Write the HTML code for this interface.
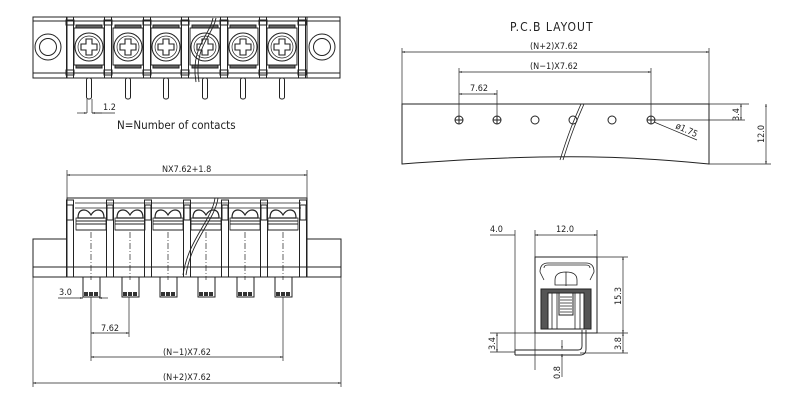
<!DOCTYPE html>
<html><head><meta charset="utf-8"><style>
html,body{margin:0;padding:0;background:#fff}
svg{display:block}
text{font-family:"DejaVu Sans Condensed","Liberation Sans",sans-serif;fill:#222}
</style></head><body>
<svg width="800" height="410" viewBox="0 0 800 410" xmlns="http://www.w3.org/2000/svg" fill="none" stroke="#222" stroke-width="1">
<defs>
<marker id="a" viewBox="0 0 10 10" refX="10" refY="5" markerWidth="6" markerHeight="4" orient="auto-start-reverse"><path d="M0,2 L10,5 L0,8z" fill="#222" stroke="none"/></marker>
<g id="term">
 <rect x="-15" y="28" width="30" height="37"/>
 <rect x="-13" y="25" width="26" height="3" fill="#666"/>
 <rect x="-13" y="65" width="26" height="3" fill="#666"/>
 <circle cx="0" cy="47" r="14"/><circle cx="0" cy="47" r="11" stroke-width="0.7"/>
 <path d="M-3,39 h6 v5 h5 v6 h-5 v5 h-6 v-5 h-5 v-6 h5z" stroke-width="1.1"/>
 <rect x="-2.5" y="78" width="5" height="21" rx="2"/>
</g>
<g id="sep"><rect x="-3.5" y="17" width="7" height="61"/><rect x="-4" y="20" width="8" height="5"/><rect x="-4" y="70" width="8" height="5"/></g>
<g id="fterm">
 <path d="M-13,218 q0,-8 6,-8 q4,0 7,5 q3,-5 7,-5 q6,0 6,8z" stroke-width="1.2"/>
 <path d="M-15,221 h30 M-15,224 h30 M-15,230 h30"/>
 <rect x="-15" y="218" width="30" height="12" stroke-width="0.8"/>
 <path d="M0,232 v48" stroke-dasharray="6,2,1,2" stroke-width="0.7"/>
 <rect x="-8" y="277" width="17" height="20"/>
 <rect x="-7" y="292" width="4" height="4" fill="#333" stroke="none"/>
 <rect x="-2" y="292" width="4" height="4" fill="#333" stroke="none"/>
 <rect x="3" y="292" width="4" height="4" fill="#333" stroke="none"/>
</g>
<g id="fsep"><rect x="-3.5" y="200" width="7" height="77"/><rect x="-3" y="205" width="6" height="15"/></g>
<g id="hole"><circle r="4"/><path d="M-4,0 h8 M0,-4 v8"/></g>
</defs>

<!-- TOP VIEW -->
<rect x="33" y="17" width="307" height="61"/>
<path d="M67,17 v61 M307,17 v61 M33,21 h307 M33,73 h307"/>
<circle cx="48" cy="47" r="13"/><circle cx="48" cy="47" r="8.5"/>
<circle cx="322" cy="47" r="13"/><circle cx="322" cy="47" r="8.5"/>
<use href="#term" x="89"/><use href="#term" x="128"/><use href="#term" x="166"/><use href="#term" x="205"/><use href="#term" x="243"/><use href="#term" x="282"/>
<use href="#sep" x="70"/><use href="#sep" x="108"/><use href="#sep" x="147"/><use href="#sep" x="185"/><use href="#sep" x="224"/><use href="#sep" x="263"/><use href="#sep" x="302"/>
<path d="M213,18 C210,35 190,48 196,82 M216,18 C213,35 193,48 199,82" stroke-width="0.9"/>
<path d="M87,99 v14 M92,99 v14" stroke-width="0.7"/>
<path d="M77,113 h10" marker-end="url(#a)" stroke-width="0.7"/><path d="M102,113 h-10" marker-end="url(#a)" stroke-width="0.7"/>
<path d="M92,113 h23" stroke-width="0.7"/>
<text x="103" y="110" font-size="9" stroke="none">1.2</text>
<text x="117" y="129" font-size="11.5" stroke="none">N=Number of contacts</text>

<!-- FRONT VIEW -->
<path d="M67,175 H307" marker-start="url(#a)" marker-end="url(#a)" stroke-width="0.7"/>
<path d="M67,170 v28 M307,170 v28" stroke-width="0.7"/>
<text x="162" y="172" font-size="9" stroke="none">NX7.62+1.8</text>
<rect x="67" y="198" width="240" height="79"/>
<path d="M75,203 h226 M75,208 h226" stroke-width="0.7"/>
<rect x="33" y="239" width="34" height="38"/><rect x="307" y="239" width="34" height="38"/>
<path d="M33,267 h308"/>
<use href="#fterm" x="91"/><use href="#fterm" x="130"/><use href="#fterm" x="168"/><use href="#fterm" x="206"/><use href="#fterm" x="245"/><use href="#fterm" x="283"/>
<use href="#fsep" x="70"/><use href="#fsep" x="110"/><use href="#fsep" x="148"/><use href="#fsep" x="187"/><use href="#fsep" x="225"/><use href="#fsep" x="264"/><use href="#fsep" x="303"/>
<path d="M215,198 C212,220 188,240 183,275 M218,198 C215,220 191,240 186,275" stroke-width="0.9"/>
<g stroke-width="0.7">
<path d="M58,298 h25" marker-end="url(#a)"/><path d="M108,298 h-9" marker-end="url(#a)"/>
<path d="M91,297 v64 M129,297 v40 M283,297 v64 M33,277 v110 M341,277 v110"/>
<path d="M91,333 H129" marker-start="url(#a)" marker-end="url(#a)"/>
<path d="M91,357 H283" marker-start="url(#a)" marker-end="url(#a)"/>
<path d="M33,383 H341" marker-start="url(#a)" marker-end="url(#a)"/>
</g>
<text x="59" y="295" font-size="9" stroke="none">3.0</text>
<text x="101" y="331" font-size="9" stroke="none">7.62</text>
<text x="163" y="355" font-size="9" stroke="none">(N−1)X7.62</text>
<text x="163" y="380" font-size="9" stroke="none">(N+2)X7.62</text>

<!-- PCB LAYOUT -->
<text x="510" y="31" font-size="12" stroke="none" letter-spacing="1">P.C.B LAYOUT</text>
<g stroke-width="0.7">
<path d="M402,52 H709" marker-start="url(#a)" marker-end="url(#a)"/>
<path d="M459,72 H651" marker-start="url(#a)" marker-end="url(#a)"/>
<path d="M459,94 H497" marker-start="url(#a)" marker-end="url(#a)"/>
<path d="M402,48 v56 M709,48 v56 M459,68 v52 M651,68 v52 M497,90 v30"/>
<path d="M709,104 h40 M655,120 h90 M709,164 h62"/>
<path d="M741,104 v16" marker-start="url(#a)" marker-end="url(#a)"/>
<path d="M766,104 V164" marker-start="url(#a)" marker-end="url(#a)"/>
<path d="M654,122 L697,140"/>
</g>
<path d="M402,104 H709 V164 C640,157 560,152 402,164 Z"/>
<path d="M581,104 C575,118 570,128 560,160 M584,104 C578,118 573,128 563,160" stroke-width="0.8"/>
<use href="#hole" x="459" y="120"/><use href="#hole" x="497" y="120"/><circle cx="535" cy="120" r="4"/><circle cx="573" cy="120" r="4"/><circle cx="612" cy="120" r="4"/><use href="#hole" x="651" y="120"/>
<text x="530" y="49" font-size="9" stroke="none">(N+2)X7.62</text>
<text x="530" y="69" font-size="9" stroke="none">(N−1)X7.62</text>
<text x="470" y="91" font-size="9" stroke="none">7.62</text>
<text x="0" y="0" font-size="9" stroke="none" transform="translate(675,128) rotate(24)">ø1.75</text>
<text x="0" y="0" font-size="9" stroke="none" transform="translate(739,121) rotate(-90)">3.4</text>
<text x="0" y="0" font-size="9" stroke="none" transform="translate(764,143) rotate(-90)">12.0</text>

<!-- SIDE VIEW -->
<g stroke-width="0.7">
<path d="M490,235 H515" /><path d="M515,230 V355 M535,230 V370 M597,230 V257"/>
<path d="M535,235 H597" marker-start="url(#a)" marker-end="url(#a)"/>
<path d="M597,257 H628 M597,333 H628 M580,353 H628 M490,333 H535 M490,352 H515"/>
<path d="M623,257 V333" marker-start="url(#a)" marker-end="url(#a)"/>
<path d="M623,333 V353" marker-start="url(#a)" marker-end="url(#a)"/>
<path d="M497,333 V352" marker-start="url(#a)" marker-end="url(#a)"/>
<path d="M562,340 V349" marker-end="url(#a)"/><path d="M562,365 V354" marker-end="url(#a)"/><path d="M562,365 v12"/>
</g>
<text x="490" y="232" font-size="9" stroke="none">4.0</text>
<text x="556" y="232" font-size="9" stroke="none">12.0</text>
<text x="0" y="0" font-size="9" stroke="none" transform="translate(621,305) rotate(-90)">15.3</text>
<text x="0" y="0" font-size="9" stroke="none" transform="translate(621,350) rotate(-90)">3.8</text>
<text x="0" y="0" font-size="9" stroke="none" transform="translate(495,350) rotate(-90)">3.4</text>
<text x="0" y="0" font-size="9" stroke="none" transform="translate(560,379) rotate(-90)">0.8</text>
<rect x="535" y="257" width="62" height="76"/>
<path d="M540,272 q0,-9 8,-9 h38 q8,0 8,9 l-4,8 M540,272 l4,8 M544,268 q0,-3 4,-3 h38 q4,0 4,3" stroke-width="0.8"/>
<path d="M555,280 q0,-8 11,-8 q11,0 11,8 v5 h-22z M566,272 v14" stroke-width="0.8"/>
<rect x="541" y="289" width="50" height="40" fill="#555" stroke="#222"/>
<rect x="548" y="293" width="36" height="36" fill="#fff"/>
<path d="M552,293 v36 M580,293 v36 M557,293 v36 M575,293 v36" stroke-width="0.8"/>
<rect x="559" y="293" width="14" height="22" fill="#fff"/>
<path d="M560,297 h12 M560,300 h12 M560,303 h12 M560,306 h12 M560,309 h12 M560,312 h12" stroke-width="0.7"/>
<path d="M515,350 H578 q4,0 4,-4 V330 M515,355 H580 q6,0 6,-6 V330" stroke-width="0.9"/>
<path d="M515,350 v5"/>
</svg>
</body></html>
